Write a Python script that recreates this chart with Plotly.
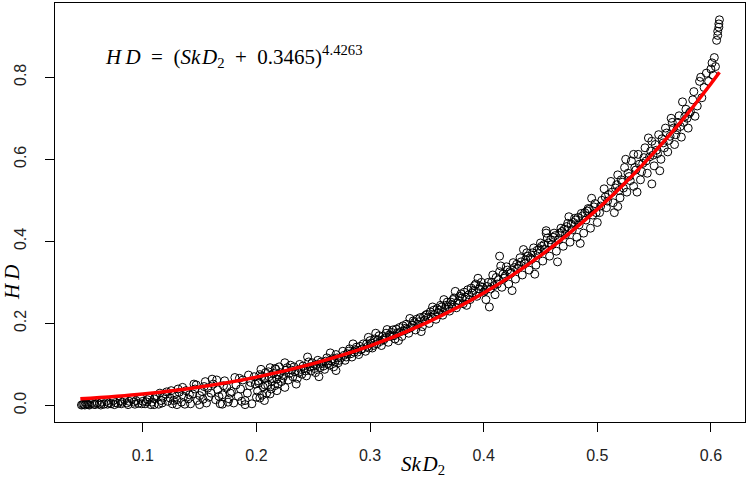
import numpy as np
import plotly.graph_objects as go

# ---- scatter data (SkD2, HD), by segment ----
skd2_a = [0.046,0.048,0.050,0.052,0.055,0.057,0.060,0.062,0.064,0.066,0.068,0.070,0.072,0.074,0.076,0.078,0.080,0.082,0.084,0.086,0.088,0.090,0.092,0.094,0.096,0.098,0.100,
          0.047,0.049,0.051,0.053,0.058,0.063,0.069,0.075,0.081,0.087,0.093,0.099]
hd_a   = [0.001,0.003,0.004,0.002,0.005,0.003,0.006,0.004,0.008,0.003,0.010,0.006,0.004,0.012,0.007,0.005,0.011,0.008,0.014,0.006,0.010,0.016,0.008,0.012,0.005,0.018,0.010,
          0.002,0.001,0.003,0.001,0.002,0.001,0.003,0.002,0.004,0.002,0.003,0.004]

skd2_b = [0.102,0.104,0.106,0.108,0.110,0.112,0.114,0.116,0.118,0.120,
          0.122,0.124,0.126,0.128,0.130,0.132,0.134,0.136,0.138,0.140,
          0.142,0.144,0.146,0.148,0.150,0.152,0.154,0.156,0.158,0.160,
          0.162,0.164,0.166,0.168,0.170,0.172,0.174,0.176,0.178,0.180,
          0.182,0.184,0.186,0.188,0.190,0.192,0.194,0.196,0.198,0.200,
          0.145,0.155,0.165,0.125,0.115,0.135,0.185,0.175,0.195,0.110,
          0.130,0.150,0.170,0.190,
          0.103,0.107,0.111,0.117,0.121,0.127,0.131,0.137,0.141,0.147,
          0.153,0.157,0.161,0.167,0.171,0.177,0.181,0.187,0.193,0.199]
hd_b   = [0.004,0.014,0.020,0.008,0.016,0.024,0.003,0.012,0.020,0.028,
          0.010,0.018,0.004,0.026,0.014,0.032,0.008,0.022,0.036,0.016,
          0.004,0.028,0.040,0.012,0.024,0.034,0.046,0.006,0.020,0.030,
          0.052,0.014,0.038,0.004,0.026,0.060,0.044,0.016,0.034,0.006,
          0.050,0.022,0.040,0.062,0.012,0.030,0.048,0.004,0.070,0.020,
          0.052,0.058,0.062,0.036,0.030,0.044,0.066,0.008,0.056,0.002,
          0.002,0.002,0.003,0.002,
          0.009,0.002,0.022,0.006,0.033,0.012,0.040,0.003,0.026,0.050,
          0.015,0.042,0.064,0.022,0.048,0.030,0.068,0.010,0.074,0.052]

skd2_c = [0.201,0.202,0.203,0.204,0.205,0.206,0.207,0.208,0.209,0.210,
          0.211,0.212,0.213,0.214,0.215,0.216,0.217,0.218,0.219,0.220,
          0.222,0.224,0.226,0.228,0.230,0.232,0.234,0.236,0.238,0.240,
          0.242,0.244,0.246,0.248,0.250,0.252,0.254,0.256,0.258,0.260,
          0.262,0.264,0.266,0.268,0.270,0.272,0.274,0.276,0.278,0.280,
          0.282,0.284,0.286,0.288,0.290,0.292,0.294,0.296,0.298,0.300,
          0.203,0.207,0.212,0.218,0.225,0.235,0.225,0.245,0.265,0.285,
          0.255,0.270,
          0.2015,0.2045,0.2075,0.2105,0.2135,0.2165,0.2195,0.221,0.223,0.227,
          0.229,0.231,0.233,0.237,0.239,0.241,0.243,0.247,0.249,0.251,
          0.253,0.257,0.259,0.261,0.263,0.267,0.269,0.271,0.273,0.277,
          0.279,0.281,0.283,0.287,0.289,0.291,0.293,0.297,0.299,0.2985]
hd_c   = [0.035,0.055,0.075,0.088,0.025,0.045,0.065,0.080,0.030,0.050,
          0.070,0.092,0.040,0.060,0.078,0.048,0.088,0.064,0.052,0.094,
          0.058,0.072,0.086,0.062,0.098,0.070,0.082,0.066,0.100,0.076,
          0.090,0.072,0.106,0.084,0.096,0.080,0.110,0.092,0.102,0.088,
          0.116,0.098,0.108,0.094,0.124,0.104,0.116,0.132,0.110,0.126,
          0.138,0.118,0.130,0.142,0.124,0.136,0.150,0.132,0.144,0.158,
          0.018,0.012,0.028,0.036,0.044,0.052,0.104,0.118,0.128,0.150,
          0.070,0.085,
          0.060,0.070,0.050,0.082,0.066,0.090,0.074,0.080,0.066,0.092,
          0.078,0.086,0.094,0.080,0.088,0.096,0.084,0.094,0.104,0.090,
          0.100,0.106,0.096,0.108,0.102,0.114,0.106,0.116,0.110,0.122,
          0.118,0.132,0.126,0.136,0.130,0.144,0.138,0.150,0.140,0.166]

skd2_d = [0.302,0.304,0.306,0.308,0.310,0.312,0.314,0.316,0.318,0.320,
          0.322,0.324,0.326,0.328,0.330,0.332,0.334,0.336,0.338,0.340,
          0.342,0.344,0.346,0.348,0.350,0.352,0.354,0.356,0.358,0.360,
          0.362,0.364,0.366,0.368,0.370,0.372,0.374,0.376,0.378,0.380,
          0.382,0.384,0.386,0.388,0.390,0.392,0.394,0.396,0.398,0.400,
          0.315,0.325,0.335,0.345,0.355,0.365,0.375,0.385,0.395,0.305,
          0.301,0.303,0.307,0.309,0.311,0.313,0.317,0.319,0.321,0.323,
          0.327,0.329,0.331,0.333,0.337,0.339,0.341,0.343,0.347,0.349,
          0.351,0.353,0.357,0.359,0.361,0.363,0.367,0.369,0.371,0.373,
          0.377,0.379,0.381,0.383,0.387,0.389,0.391,0.393,0.397,0.399]
hd_d   = [0.140,0.162,0.150,0.170,0.146,0.160,0.176,0.154,0.168,0.184,
          0.162,0.176,0.190,0.168,0.182,0.198,0.176,0.190,0.206,0.184,
          0.198,0.214,0.192,0.208,0.222,0.200,0.216,0.232,0.210,0.226,
          0.244,0.220,0.236,0.252,0.230,0.246,0.262,0.238,0.256,0.272,
          0.248,0.264,0.282,0.258,0.274,0.292,0.266,0.284,0.300,0.276,
          0.185,0.158,0.212,0.180,0.240,0.258,0.278,0.244,0.310,0.176,
          0.152,0.146,0.160,0.156,0.168,0.164,0.172,0.178,0.170,0.186,
          0.180,0.194,0.188,0.186,0.196,0.202,0.210,0.204,0.216,0.220,
          0.214,0.228,0.222,0.236,0.232,0.240,0.244,0.240,0.252,0.258,
          0.250,0.266,0.262,0.276,0.270,0.286,0.280,0.296,0.290,0.288]

skd2_e = [0.402,0.404,0.406,0.408,0.410,0.412,0.414,0.416,0.418,0.420,
          0.422,0.424,0.426,0.428,0.430,0.432,0.434,0.436,0.438,0.440,
          0.442,0.444,0.446,0.448,0.450,0.452,0.454,0.456,0.458,0.460,
          0.462,0.464,0.466,0.468,0.470,0.472,0.474,0.476,0.478,0.480,
          0.482,0.484,0.486,0.488,0.490,0.492,0.494,0.496,0.498,0.500,
          0.405,0.415,0.425,0.435,0.445,0.455,0.465,0.475,0.485,0.495,
          0.414,0.455,
          0.401,0.403,0.407,0.409,0.411,0.413,0.417,0.419,0.421,0.423,
          0.427,0.429,0.431,0.433,0.437,0.439,0.441,0.443,0.447,0.449,
          0.451,0.453,0.457,0.459,0.461,0.463,0.467,0.469,0.471,0.473,
          0.477,0.479,0.481,0.483,0.487,0.489,0.491,0.493,0.497,0.499]
hd_e   = [0.258,0.300,0.284,0.318,0.270,0.296,0.326,0.288,0.310,0.338,
          0.296,0.322,0.348,0.308,0.334,0.360,0.318,0.346,0.372,0.330,
          0.356,0.384,0.342,0.370,0.396,0.352,0.380,0.408,0.364,0.392,
          0.420,0.376,0.404,0.432,0.388,0.416,0.444,0.398,0.428,0.456,
          0.410,0.440,0.468,0.420,0.452,0.480,0.432,0.464,0.492,0.446,
          0.240,0.340,0.280,0.380,0.320,0.420,0.350,0.460,0.395,0.505,
          0.364,0.426,
          0.280,0.290,0.300,0.292,0.312,0.306,0.320,0.316,0.330,0.326,
          0.336,0.344,0.340,0.350,0.356,0.364,0.360,0.372,0.378,0.382,
          0.388,0.392,0.396,0.404,0.410,0.414,0.420,0.424,0.430,0.436,
          0.442,0.446,0.452,0.458,0.462,0.470,0.474,0.478,0.484,0.470]

skd2_f = [0.502,0.504,0.506,0.508,0.510,0.512,0.514,0.516,0.518,0.520,
          0.522,0.524,0.526,0.528,0.530,0.532,0.534,0.536,0.538,0.540,
          0.542,0.544,0.546,0.548,0.550,0.552,0.554,0.556,0.558,0.560,
          0.562,0.564,0.566,0.568,0.570,0.572,0.574,0.576,0.578,0.580,
          0.515,0.525,0.535,0.545,0.555,0.565,0.575,0.532,0.518,0.548,
          0.503,0.507,0.509,0.513,0.517,0.519,0.521,0.523,0.527,0.529,
          0.533,0.537,0.539,0.541,0.543,0.547,0.549,0.551,0.553,0.557,
          0.559,0.561,0.563,0.567,0.569,0.571,0.573,0.577,0.579,0.581]
hd_f   = [0.470,0.500,0.528,0.482,0.514,0.546,0.494,0.530,0.562,0.506,
          0.544,0.580,0.520,0.558,0.596,0.534,0.574,0.612,0.550,0.590,
          0.628,0.566,0.606,0.644,0.584,0.622,0.660,0.600,0.640,0.676,
          0.618,0.656,0.690,0.636,0.672,0.706,0.654,0.690,0.722,0.676,
          0.470,0.600,0.520,0.652,0.572,0.700,0.740,0.612,0.485,0.540,
          0.486,0.508,0.498,0.520,0.538,0.524,0.550,0.530,0.566,0.548,
          0.580,0.588,0.570,0.604,0.596,0.620,0.610,0.636,0.614,0.650,
          0.628,0.664,0.646,0.676,0.660,0.690,0.680,0.704,0.700,0.712]

skd2_g = [0.582,0.584,0.585,0.586,0.588,0.590,0.591,0.592,0.594,0.596,
          0.598,0.600,0.601,0.602,0.603,0.604,0.605,0.606,0.606,0.607,
          0.6075,0.607]
hd_g   = [0.716,0.745,0.765,0.705,0.730,0.790,0.800,0.750,0.775,0.810,
          0.790,0.820,0.835,0.805,0.848,0.826,0.890,0.902,0.912,0.922,
          0.940,0.930]

# ---- fitted curve, values ----
fit_x = [0.045, 0.100, 0.150, 0.200, 0.250, 0.300, 0.350, 0.400, 0.450, 0.500, 0.525, 0.550, 0.575, 0.600, 0.6075]
fit_y = [0.016, 0.028, 0.045, 0.069, 0.102, 0.145, 0.202, 0.274, 0.365, 0.478, 0.544, 0.617, 0.696, 0.784, 0.812]

x_ticks = [0.1, 0.2, 0.3, 0.4, 0.5, 0.6]
x_ticktext = ["0.1", "0.2", "0.3", "0.4", "0.5", "0.6"]
y_ticks = [0.0, 0.2, 0.4, 0.6, 0.8]
y_ticktext = ["0.0", "0.2", "0.4", "0.6", "0.8"]

skd2 = skd2_a + skd2_b + skd2_c + skd2_d + skd2_e + skd2_f + skd2_g
hd = hd_a + hd_b + hd_c + hd_d + hd_e + hd_f + hd_g

fig = go.Figure()
fig.add_trace(go.Scatter(
    x=skd2, y=hd, mode="markers",
    marker=dict(symbol="circle-open", size=8, color="black", line=dict(width=1, color="black")),
    showlegend=False, hoverinfo="skip"))
fig.add_trace(go.Scatter(
    x=fit_x, y=fit_y, mode="lines", line=dict(color="#ff0000", width=3.5, shape="spline"),
    showlegend=False, hoverinfo="skip"))

tickfont = dict(family="Liberation Sans, Arial, sans-serif", size=16, color="#222222")
axis_common = dict(showline=True, mirror=True, linecolor="black", linewidth=1,
                   ticks="outside", ticklen=9, tickwidth=1, tickcolor="black",
                   showgrid=False, zeroline=False, tickfont=tickfont, automargin=False)

fig.update_layout(
    width=748, height=479,
    margin=dict(l=55, r=3, t=3, b=57, autoexpand=False),
    paper_bgcolor="white", plot_bgcolor="white",
    hovermode=False,
    xaxis=dict(range=[0.0227, 0.630], tickvals=x_ticks, ticktext=x_ticktext,
               ticklabelstandoff=10, **axis_common),
    yaxis=dict(range=[-0.0404, 0.981], tickvals=y_ticks, ticktext=y_ticktext, tickangle=-90,
               ticklabelstandoff=13, **axis_common),
)

serif = "Liberation Serif, Times New Roman, serif"
fig.add_annotation(xref="paper", yref="paper", x=0.07, y=0.873, xanchor="left", yanchor="middle",
                   text="<i>H</i>&#8201;<i>D</i>&nbsp;&nbsp;=&nbsp;&nbsp;(<i>S</i><i>k</i>&#8202;<i>D</i><sub>2</sub>&nbsp;&nbsp;+&nbsp;&nbsp;0.3465)<sup>4.4263</sup>",
                   showarrow=False, font=dict(family=serif, size=21, color="black"))
fig.add_annotation(xref="paper", yref="paper", x=0.533, y=-0.1036, xanchor="center", yanchor="middle",
                   text="<i>S</i><i>k</i>&#8202;<i>D</i><sub>2</sub>", showarrow=False,
                   font=dict(family=serif, size=21, color="black"))
fig.add_annotation(xref="paper", yref="paper", x=-0.0623, y=0.334, xanchor="center", yanchor="middle",
                   text="<i>H</i>&#8201;<i>D</i>", textangle=-90, showarrow=False,
                   font=dict(family=serif, size=21, color="black"))

fig.write_html("out.html", config={"displayModeBar": False},
               post_script="document.body.style.margin='0';document.body.style.padding='0';")
